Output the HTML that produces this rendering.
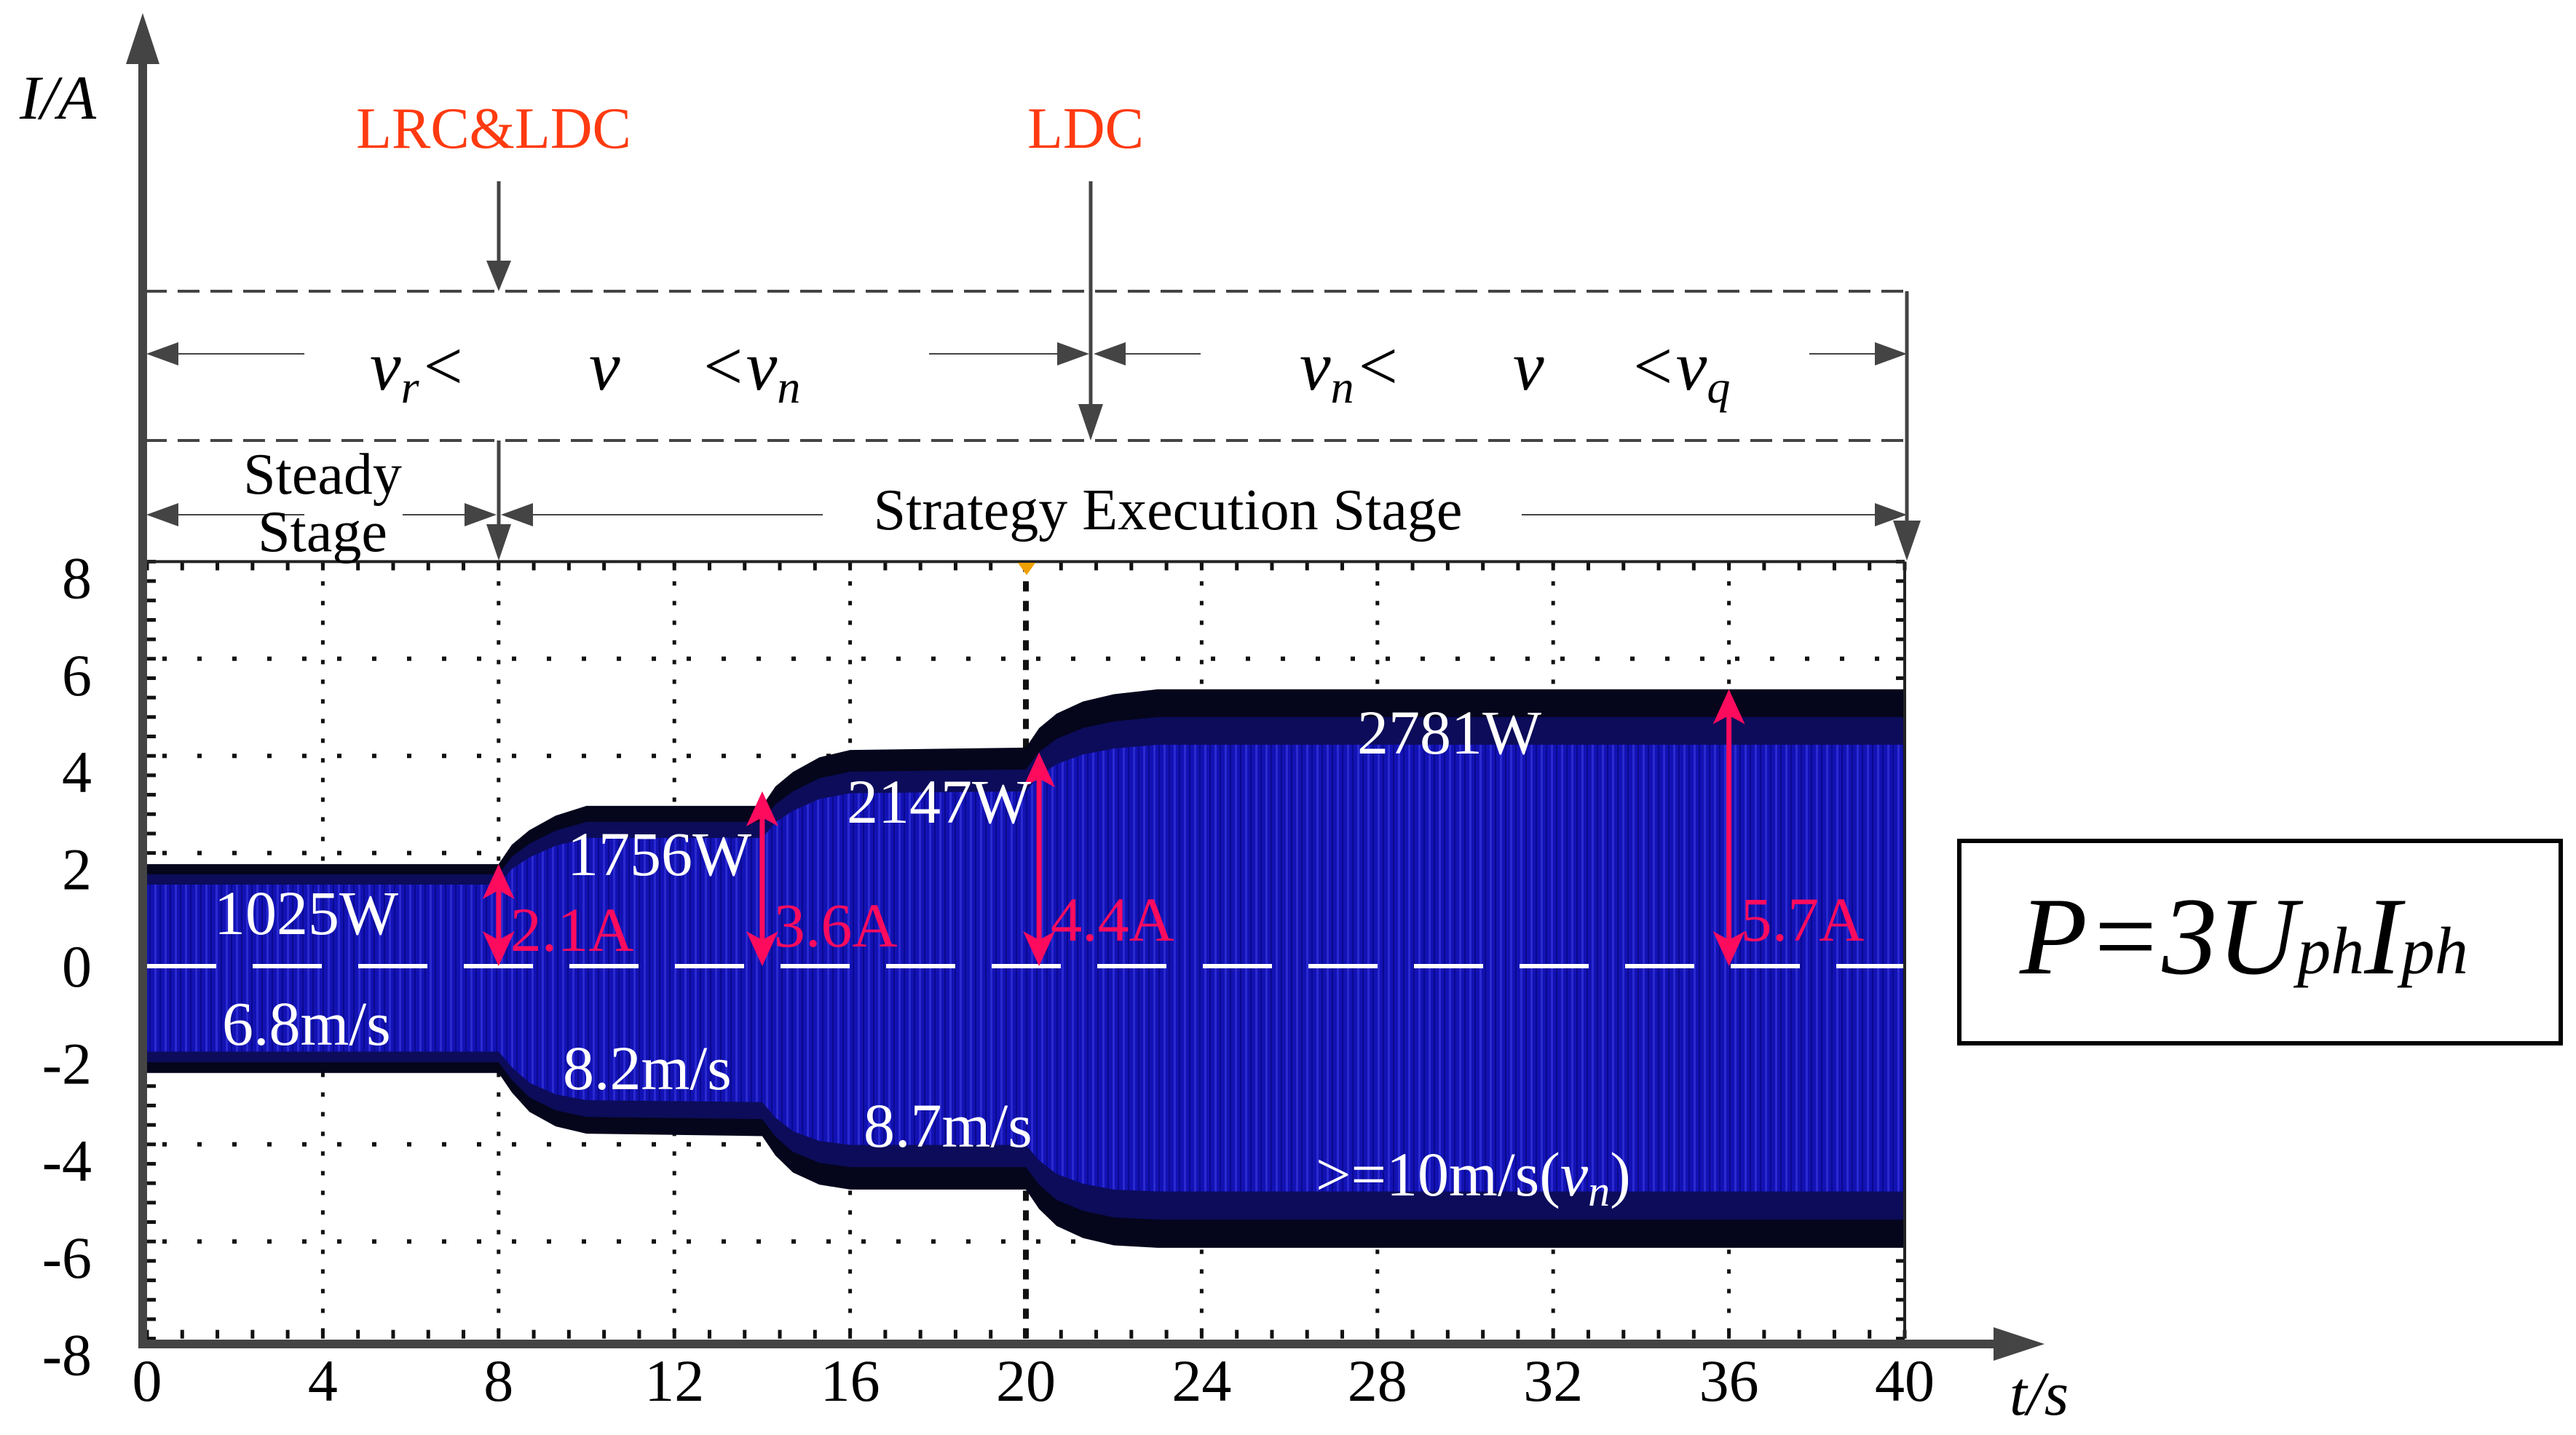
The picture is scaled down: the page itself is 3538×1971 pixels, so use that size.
<!DOCTYPE html>
<html><head><meta charset="utf-8"><style>
html,body{margin:0;padding:0;background:#fff;}
svg{display:block;}
text{font-family:"Liberation Serif",serif;}
</style></head><body>
<svg id="chart" width="3538" height="1971" viewBox="0 0 3538 1971" xmlns="http://www.w3.org/2000/svg">
<defs>
<pattern id="stripes" width="14" height="40" patternUnits="userSpaceOnUse">
<rect width="14" height="40" fill="#1212b4"/>
<rect x="2" width="3" height="40" fill="#2a2ad0"/>
<rect x="9" width="2" height="40" fill="#0a0a8c"/>
</pattern>
</defs>
<g id="grid"></g>
<g id="wave"></g>
<g id="axes"></g>
<g id="ann"></g>
</svg>
<script>
const xTicks=[0,4,8,12,16,20,24,28,32,36,40];
const yTicks=[8,6,4,2,0,-2,-4,-6,-8];
const envTimes=[0,8,8.3,8.7,9.3,10,14,14.3,14.7,15.3,16,20,20.3,20.7,21.3,22,23,40];
const envTop=[2.1,2.1,2.5,2.8,3.1,3.3,3.3,3.7,4.0,4.3,4.45,4.5,4.9,5.2,5.45,5.6,5.7,5.7];
const envBottom=[-2.2,-2.2,-2.6,-3.0,-3.3,-3.45,-3.5,-3.9,-4.25,-4.5,-4.6,-4.6,-5.0,-5.35,-5.6,-5.75,-5.8,-5.8];
const ampTimes=[8,14,20.3,36];
const ampValues=[2.1,3.6,4.4,5.7];
const ampLabels=["2.1A","3.6A","4.4A","5.7A"];

const NS="http://www.w3.org/2000/svg";
const X=t=>202+60.35*t;
const Y=v=>1327-66.7*v;
const GY=v=>Y(v)-22;
function mk(tag,attrs,parent,txt){const e=document.createElementNS(NS,tag);for(const k in attrs)e.setAttribute(k,attrs[k]);if(txt!==undefined)e.textContent=txt;parent.appendChild(e);return e;}
const grid=document.getElementById('grid'),wave=document.getElementById('wave'),axes=document.getElementById('axes'),ann=document.getElementById('ann');

yTicks.forEach(v=>{if(v===8||v===-8)return;const l=mk('line',{x1:X(0),x2:X(40),y1:GY(v),y2:GY(v),stroke:'#111','stroke-width':6,'stroke-dasharray':'6 42','stroke-dashoffset':-21},grid);

});
xTicks.forEach(t=>{if(t===0||t===40)return;const l=mk('line',{x1:X(t),x2:X(t),y1:GY(8),y2:GY(-8),stroke:'#111','stroke-width':t===20?8:5,'stroke-dasharray':t===20?'14 13':'6 21'},grid);

});
for(let i=0;i<=200;i++){const t=i*0.8;if(t>40)break;mk('line',{x1:X(t),x2:X(t),y1:GY(8),y2:GY(8)+12,stroke:'#111','stroke-width':5},grid);mk('line',{x1:X(t),x2:X(t),y1:GY(-8),y2:GY(-8)-12,stroke:'#111','stroke-width':5},grid);}
for(let v=-8;v<=8.01;v+=0.4){mk('line',{x1:X(0),x2:X(0)+12,y1:GY(v),y2:GY(v),stroke:'#111','stroke-width':5},grid);mk('line',{x1:X(40),x2:X(40)-12,y1:GY(v),y2:GY(v),stroke:'#111','stroke-width':5},grid);}

function envPath(f){let d='';envTimes.forEach((t,i)=>{d+=(i?'L':'M')+X(t)+','+Y(envTop[i]*f)+' ';});for(let i=envTimes.length-1;i>=0;i--){d+='L'+X(envTimes[i])+','+Y(envBottom[i]*f)+' ';}return d+'Z';}
const outer=mk('path',{d:envPath(1),fill:'#05051c'},wave);


const mid=mk('path',{d:envPath(0.9),fill:'#0c0c5a'},wave);


const inner=mk('path',{d:envPath(0.8),fill:'url(#stripes)'},wave);


const zl=mk('line',{x1:X(0),x2:X(40),y1:Y(0),y2:Y(0),stroke:'#fff','stroke-width':6,'stroke-dasharray':'95 50'},wave);



mk('line',{x1:X(0),x2:X(40),y1:GY(8),y2:GY(8),stroke:'#222','stroke-width':4},axes);
mk('line',{x1:X(40),x2:X(40),y1:GY(8),y2:GY(-8),stroke:'#222','stroke-width':4},axes);
const ya=mk('line',{x1:196,x2:196,y1:60,y2:1850,stroke:'#444','stroke-width':12},axes);


mk('path',{d:'M196,18 L173,88 L219,88 Z',fill:'#444'},axes);
const xa=mk('line',{x1:190,x2:2760,y1:1846,y2:1846,stroke:'#444','stroke-width':12},axes);


mk('path',{d:'M2808,1846 L2738,1823 L2738,1869 Z',fill:'#444'},axes);
xTicks.forEach(t=>{const e=mk('text',{x:X(t),y:1924,'font-size':82,'text-anchor':'middle',fill:'#000'},axes,String(t));

});
yTicks.forEach(v=>{const e=mk('text',{x:126,y:Y(v)+28,'font-size':82,'text-anchor':'end',fill:'#000'},axes,String(v));

});
mk('path',{d:'M1398,773 L1422,773 L1410,790 Z',fill:'#f0a000'},axes);

ampTimes.forEach((t,i)=>{const x=X(t),y0=Y(0),y1=Y(ampValues[i]);
const g=mk('g',{},ann);


mk('line',{x1:x,x2:x,y1:y1+30,y2:y0-30,stroke:'#ff0b5e','stroke-width':7},g);
mk('path',{d:`M${x},${y1} L${x-22},${y1+48} L${x},${y1+36} L${x+22},${y1+48} Z`,fill:'#ff0b5e'},g);
mk('path',{d:`M${x},${y0} L${x-22},${y0-48} L${x},${y0-36} L${x+22},${y0-48} Z`,fill:'#ff0b5e'},g);
const l=mk('text',{x:x+16,y:i===0?1306:(i===1?1300:1292),'font-size':86,fill:'#ff0b5e'},ann,ampLabels[i]);

});
</script>
<svg style="position:absolute;left:0;top:0" width="3538" height="1971" viewBox="0 0 3538 1971">
<g font-family="Liberation Serif, serif" font-size="86" fill="#fff">
<text x="294" y="1283">1025W</text>
<text x="305" y="1435">6.8m/s</text>
<text x="779" y="1202">1756W</text>
<text x="773" y="1496">8.2m/s</text>
<text x="1163" y="1130">2147W</text>
<text x="1186" y="1575">8.7m/s</text>
<text x="1864" y="1035">2781W</text>
<text x="1807" y="1642">&gt;=10m/s(<tspan font-style="italic">v</tspan><tspan font-style="italic" font-size="60" dy="14">n</tspan><tspan dy="-14">)</tspan></text>
</g>
<text x="27" y="163" font-family="Liberation Serif, serif" font-style="italic" font-size="86">I/A</text>
<text x="2760" y="1943" font-family="Liberation Serif, serif" font-style="italic" font-size="86">t/s</text>
<g stroke="#444" stroke-width="4" fill="none">
<line x1="199" y1="400" x2="2621" y2="400" stroke-dasharray="30 15"/>
<line x1="199" y1="605" x2="2621" y2="605" stroke-dasharray="30 15"/>
<line x1="2619" y1="400" x2="2619" y2="720" stroke-width="5"/>
<line x1="685" y1="249" x2="685" y2="360" stroke-width="5"/>
<line x1="1498" y1="249" x2="1498" y2="560" stroke-width="5"/>
<line x1="685" y1="605" x2="685" y2="730" stroke-width="5"/>
<line x1="210" y1="486" x2="418" y2="486" stroke-width="2"/>
<line x1="1276" y1="486" x2="1480" y2="486" stroke-width="2"/>
<line x1="1515" y1="486" x2="1649" y2="486" stroke-width="2"/>
<line x1="2485" y1="486" x2="2605" y2="486" stroke-width="2"/>
<line x1="210" y1="707" x2="418" y2="707" stroke-width="2"/>
<line x1="553" y1="707" x2="670" y2="707" stroke-width="2"/>
<line x1="700" y1="707" x2="1130" y2="707" stroke-width="2"/>
<line x1="2090" y1="707" x2="2605" y2="707" stroke-width="2"/>
</g>
<g fill="#444">
<path d="M685,400 L668,358 L702,358 Z"/>
<path d="M1498,605 L1481,555 L1515,555 Z"/>
<path d="M685,770 L668,720 L702,720 Z"/>
<path d="M2619,770 L2600,715 L2638,715 Z"/>
<path d="M201,486 L245,470 L245,502 Z"/>
<path d="M1496,486 L1452,470 L1452,502 Z"/>
<path d="M1502,486 L1546,470 L1546,502 Z"/>
<path d="M2619,486 L2575,470 L2575,502 Z"/>
<path d="M201,707 L245,691 L245,723 Z"/>
<path d="M682,707 L638,691 L638,723 Z"/>
<path d="M688,707 L732,691 L732,723 Z"/>
<path d="M2619,707 L2575,691 L2575,723 Z"/>
</g>
<g font-family="Liberation Serif, serif" font-size="80" fill="#ff3a10" text-anchor="middle">
<text x="678" y="203">LRC&amp;LDC</text>
<text x="1491" y="203">LDC</text>
</g>
<g font-family="Liberation Serif, serif" font-size="80" fill="#000" text-anchor="middle">
<text x="443" y="678">Steady</text>
<text x="443" y="757">Stage</text>
<text x="1604" y="727">Strategy Execution Stage</text>
</g>
<g font-family="Liberation Serif, serif" font-style="italic" font-size="96" fill="#000">
<text x="508" y="535">v<tspan font-size="64" dy="18">r</tspan><tspan dy="-18">&lt;</tspan></text>
<text x="809" y="535">v</text>
<text x="960" y="535">&lt;v<tspan font-size="64" dy="18">n</tspan></text>
<text x="1785" y="535">v<tspan font-size="64" dy="18">n</tspan><tspan dy="-18">&lt;</tspan></text>
<text x="2078" y="535">v</text>
<text x="2237" y="535">&lt;v<tspan font-size="64" dy="18">q</tspan></text>
</g>
<rect x="2691" y="1155" width="826" height="278" fill="none" stroke="#000" stroke-width="6"/>
<text x="2774" y="1337" font-family="Liberation Serif, serif" font-style="italic" font-size="152">P=3U<tspan font-size="92">ph</tspan>I<tspan font-size="92">ph</tspan></text>
</svg>
</body></html>
